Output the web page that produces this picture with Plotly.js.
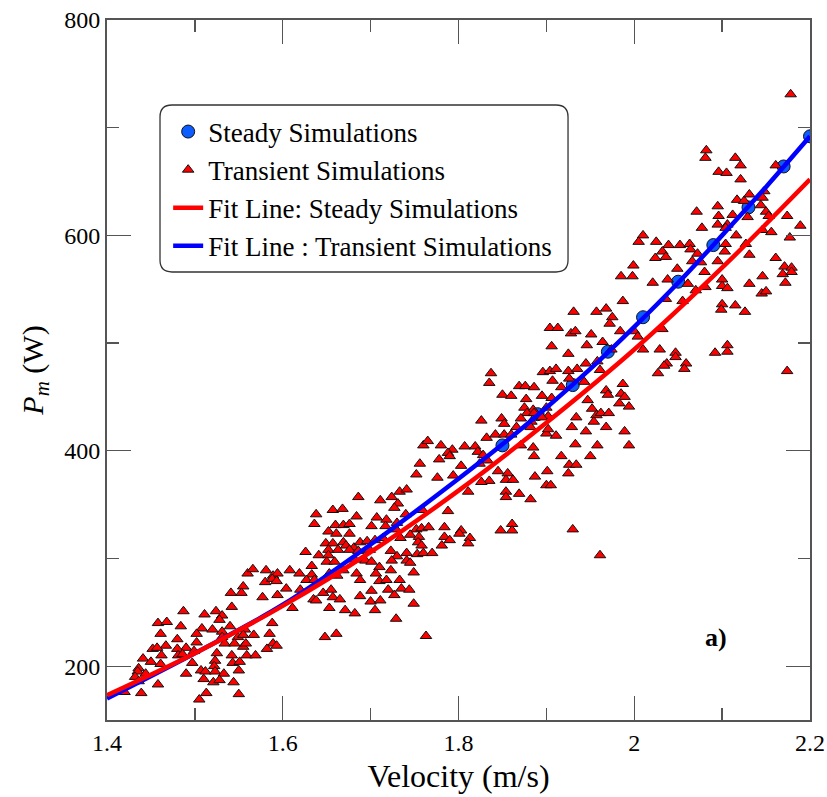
<!DOCTYPE html>
<html>
<head>
<meta charset="utf-8">
<script src="https://cdn.plot.ly/plotly-3.0.1.min.js"></script>
<style>
  html, body { margin: 0; padding: 0; background: #fff; }
  #chart { width: 827px; height: 797px; }
</style>
</head>
<body>
<div id="chart"></div>
<script>
// ---------- DATA ----------
const steadyV = [1.85, 1.89, 1.93, 1.97, 2.01, 2.05, 2.09, 2.13, 2.17, 2.20];
const steadyP = [405, 434, 461, 492, 524, 557, 591, 626, 664, 692];

const fitSteadyV = [1.40, 1.50, 1.60, 1.70, 1.80, 1.90, 2.00, 2.10, 2.20];
const fitSteadyP = [173, 212, 256, 306, 363, 426, 494, 570, 652];

const fitTransV = [1.40, 1.50, 1.60, 1.70, 1.80, 1.85, 1.90, 1.95, 2.00, 2.05, 2.10, 2.15, 2.20];
const fitTransP = [170, 212, 257, 313, 374, 406, 440, 476, 515, 556, 600, 645, 692];

const transientV = [
  1.560,1.566,1.581,1.589,1.594,1.580,1.588,1.593,1.555,1.541,1.553,1.577,1.594,1.487,1.511,1.524,1.542,1.531,1.528,1.458,
  1.468,1.484,1.461,1.508,1.502,1.520,1.531,1.540,1.557,1.588,1.585,1.567,1.480,1.531,1.549,1.555,1.502,1.490,1.480,1.467,
  1.452,1.457,1.534,1.545,1.555,1.558,1.589,1.593,1.582,1.462,1.481,1.486,1.499,1.525,1.542,1.559,1.569,1.441,1.450,1.461,
  1.497,1.523,1.522,1.543,1.551,1.436,1.435,1.444,1.507,1.512,1.523,1.533,1.550,1.490,1.432,1.436,1.458,1.510,1.521,1.528,
  1.544,1.420,1.439,1.513,1.550,1.505,
  1.760,1.765,1.780,1.793,1.788,1.790,1.778,1.756,1.752,1.776,1.794,1.733,1.741,1.724,1.711,1.686,1.731,1.727,1.657,1.668,
  1.638,1.636,1.684,1.707,1.718,1.740,1.759,1.788,1.652,1.660,1.669,1.676,1.661,1.676,1.701,1.717,1.730,1.729,1.752,1.758,
  1.766,1.784,1.649,1.657,1.669,1.652,1.663,1.672,1.681,1.688,1.696,1.705,1.714,1.734,1.745,1.755,1.754,1.758,1.784,1.790,
  1.626,1.641,1.652,1.676,1.686,1.699,1.723,1.741,1.730,1.753,1.760,1.770,1.781,1.633,1.650,1.659,1.669,1.682,1.694,1.701,
  1.710,1.724,1.723,1.741,1.745,1.608,1.619,1.633,1.627,1.636,1.653,1.662,1.684,1.688,1.706,1.710,1.718,1.733,1.749,1.604,
  1.620,1.646,1.655,1.657,1.665,1.688,1.701,1.720,1.727,1.735,1.744,1.611,1.635,1.638,1.653,1.671,1.682,1.700,1.711,1.705,
  1.749,1.729,1.763,1.661,1.648,
  1.999,1.985,1.998,1.987,1.931,1.957,1.968,1.975,1.972,1.904,1.913,1.928,1.933,1.951,1.984,1.906,1.925,1.946,1.964,1.974,
  1.837,1.835,1.896,1.904,1.911,1.925,1.935,1.945,1.958,1.961,1.907,1.917,1.926,1.943,1.987,1.850,1.860,1.869,1.876,1.886,
  1.895,1.877,1.906,1.947,1.968,1.970,1.985,1.989,1.983,1.994,1.826,1.849,1.852,1.875,1.885,1.878,1.886,1.900,1.902,1.895,
  1.883,1.882,1.871,1.934,1.952,1.957,1.962,1.971,1.954,1.968,1.989,1.832,1.842,1.852,1.860,1.866,1.900,1.902,1.911,1.929,
  1.945,1.933,1.958,1.994,1.807,1.819,1.822,1.828,1.833,1.824,1.803,1.871,1.885,1.886,1.917,1.926,1.934,1.925,1.950,1.845,
  1.856,1.854,1.862,1.835,1.826,1.811,1.901,1.887,1.900,1.905,1.854,1.854,1.869,1.882,1.803,1.801,1.813,1.811,1.848,1.861,
  1.861,1.930,1.961,
  2.178,2.082,2.081,2.115,2.121,2.096,2.105,2.121,2.161,2.117,2.125,2.131,2.148,2.146,2.144,2.150,2.153,2.095,2.096,2.112,
  2.129,2.174,2.189,2.071,2.077,2.095,2.106,2.104,2.116,2.146,2.156,2.177,2.010,2.005,2.025,2.039,2.052,2.063,2.064,2.032,
  2.036,2.024,2.072,2.104,2.103,2.095,2.127,2.131,2.161,2.066,2.076,2.080,2.049,2.038,2.021,2.100,2.100,2.106,2.131,2.146,
  2.145,2.150,2.171,2.179,2.169,2.179,2.172,2.081,2.061,2.070,2.036,2.055,2.100,2.099,2.115,2.126,2.000,2.004,2.032,2.010,
  2.029,2.047,2.047,2.037,2.034,2.059,2.057,2.027,2.092,2.106,2.106,2.174
];
const transientP = [
  286,290,289,284,286,278,281,279,274,268,268,264,266,251,248,251,255,247,243,240,
  241,237,230,235,230,234,232,237,234,240,230,229,225,227,227,229,222,217,216,219,
  216,217,221,221,218,221,221,219,216,210,210,211,214,212,210,210,210,207,204,202,
  203,205,200,203,204,198,195,193,196,195,195,193,196,193,190,186,183,188,185,187,
  185,176,175,175,174,169,
  405,409,405,401,398,395,392,388,378,375,377,362,364,357,354,357,351,347,345,346,
  341,332,339,338,336,341,345,344,325,331,331,332,323,323,330,330,333,327,327,328,
  329,329,314,314,315,308,308,312,310,315,316,317,319,319,322,320,315,312,320,317,
  306,303,303,308,307,308,307,305,302,304,305,305,312,293,297,297,289,299,298,297,
  292,298,289,298,296,289,286,285,280,280,286,284,286,280,286,279,280,280,287,272,
  271,268,271,264,262,265,270,271,266,272,271,254,262,261,254,252,249,260,261,252,
  258,244,228,230,227,
  572,562,562,539,529,529,532,524,518,514,514,509,511,508,511,497,490,498,501,494,
  472,463,473,474,476,474,476,481,483,475,465,459,467,464,462,452,451,460,460,459,
  451,448,449,447,456,452,453,450,444,441,428,430,425,440,438,435,435,440,432,431,
  427,422,430,431,439,433,435,435,427,422,418,412,415,415,415,422,416,420,414,422,
  418,406,405,405,404,404,399,396,391,388,386,405,403,395,395,387,387,379,395,381,
  379,373,373,372,371,362,381,376,368,368,362,357,360,355,326,323,319,314,326,332,
  326,327,303,
  731,679,672,672,665,659,658,652,665,633,632,638,641,635,628,622,618,627,618,619,
  617,618,609,622,607,610,610,607,600,605,603,598,600,594,594,591,591,592,587,585,
  580,579,583,592,585,576,592,582,579,576,575,566,569,559,556,559,553,551,555,562,
  546,548,571,570,564,566,556,552,555,549,541,539,536,531,535,529,511,506,513,494,
  494,491,487,481,479,481,476,472,491,498,492,474
];

const xTickVals = [1.4, 1.6, 1.8, 2.0, 2.2];
const xTickText = ['1.4', '1.6', '1.8', '2', '2.2'];
const yTickVals = [200, 400, 600, 800];
const yTickText = ['200', '400', '600', '800'];

// ---------- STYLE ----------
const FONT = 'Liberation Serif';
const AXC = '#555555';

const traces = [
  {
    x: steadyV, y: steadyP, type: 'scatter', mode: 'markers',
    name: 'Steady Simulations', legendrank: 1, legendgroup: 'g1',
    marker: { symbol: 'circle', size: 13, color: '#0d5cff', line: { color: '#111', width: 1 } }
  },
  {
    x: transientV, y: transientP, type: 'scatter', mode: 'markers',
    name: 'Transient Simulations', legendrank: 2, legendgroup: 'g2',
    marker: { symbol: 'triangle-up', size: 10, color: '#ff0000', line: { color: '#111', width: 1 } }
  },
  {
    x: fitTransV, y: fitTransP, type: 'scatter', mode: 'lines',
    name: 'Fit Line : Transient Simulations', legendrank: 4, legendgroup: 'g4',
    line: { color: '#0000ff', width: 4.5, shape: 'spline', smoothing: 1 }
  },
  {
    x: fitSteadyV, y: fitSteadyP, type: 'scatter', mode: 'lines',
    name: 'Fit Line: Steady Simulations', legendrank: 3, legendgroup: 'g3',
    line: { color: '#ff0000', width: 4.5, shape: 'spline', smoothing: 1 }
  }
];

// rounded legend frame (paper coordinates)
const bx0 = 0.0754, bx1 = 0.6558, by0 = 0.640, by1 = 0.8786, r = 0.017;
const framePath =
  `M ${bx0 + r} ${by1} L ${bx1 - r} ${by1} Q ${bx1} ${by1} ${bx1} ${by1 - r} ` +
  `L ${bx1} ${by0 + r} Q ${bx1} ${by0} ${bx1 - r} ${by0} ` +
  `L ${bx0 + r} ${by0} Q ${bx0} ${by0} ${bx0} ${by0 + r} ` +
  `L ${bx0} ${by1 - r} Q ${bx0} ${by1} ${bx0 + r} ${by1} Z`;

const layout = {
  width: 827, height: 797,
  margin: { l: 107, r: 17, t: 20, b: 77, pad: 0 },
  paper_bgcolor: '#ffffff', plot_bgcolor: '#ffffff',
  font: { family: FONT, size: 24, color: '#000' },
  showlegend: true,
  legend: {
    x: 0.087, y: 0.875, xanchor: 'left', yanchor: 'top',
    bgcolor: 'rgba(0,0,0,0)', borderwidth: 0,
    traceorder: 'grouped', tracegroupgap: 0,
    font: { family: FONT, size: 27, color: '#000' }
  },
  xaxis: {
    range: [1.4, 2.2], tickmode: 'array', tickvals: xTickVals, ticktext: xTickText,
    ticks: 'inside', ticklen: 24, tickwidth: 1.3, tickcolor: AXC,
    minor: { dtick: 0.1, tick0: 1.4, ticks: 'inside', ticklen: 12, tickwidth: 1.3, tickcolor: AXC },
    showline: true, linecolor: AXC, linewidth: 2, mirror: 'ticks',
    showgrid: false, zeroline: false,
    tickfont: { family: FONT, size: 24, color: '#000' },
    title: { text: 'Velocity (m/s)', font: { family: FONT, size: 32, color: '#000' }, standoff: 10 }
  },
  yaxis: {
    range: [150, 800], tickmode: 'array', tickvals: yTickVals, ticktext: yTickText,
    ticks: 'inside', ticklen: 24, tickwidth: 1.3, tickcolor: AXC,
    minor: { dtick: 100, tick0: 0, ticks: 'inside', ticklen: 12, tickwidth: 1.3, tickcolor: AXC },
    showline: true, linecolor: AXC, linewidth: 2, mirror: 'ticks',
    showgrid: false, zeroline: false,
    tickfont: { family: FONT, size: 24, color: '#000' },
    title: { text: '<i>P</i><sub><i>m</i></sub> (W)', font: { family: FONT, size: 30, color: '#000' }, standoff: 12 }
  },
  shapes: [
    { type: 'path', xref: 'paper', yref: 'paper', path: framePath,
      line: { color: '#333', width: 1.3 }, fillcolor: 'rgba(0,0,0,0)', layer: 'above' }
  ],
  annotations: [
    { x: 2.093, y: 227, xref: 'x', yref: 'y', text: '<b>a)</b>', showarrow: false,
      font: { family: FONT, size: 26, color: '#000' } }
  ]
};

Plotly.newPlot('chart', traces, layout, { displayModeBar: false, staticPlot: true });
</script>
</body>
</html>
